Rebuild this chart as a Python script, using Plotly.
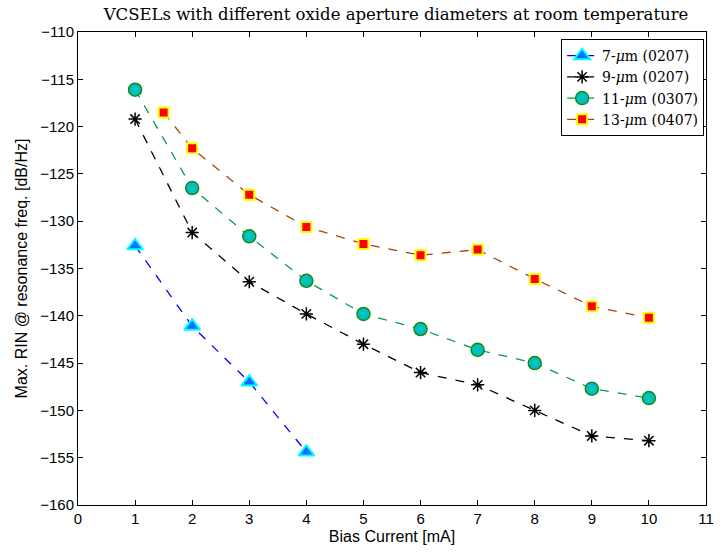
import plotly.graph_objects as go

# Data
x7 = [1, 2, 3, 4]
y7 = [-132.6, -141.1, -147.0, -154.4]

x9 = [1, 2, 3, 4, 5, 6, 7, 8, 9, 10]
y9 = [-119.2, -131.2, -136.4, -139.8, -143.0, -146.0, -147.3, -150.0, -152.7, -153.2]

x11 = [1, 2, 3, 4, 5, 6, 7, 8, 9, 10]
y11 = [-116.1, -126.5, -131.6, -136.3, -139.8, -141.4, -143.6, -145.0, -147.7, -148.7]

x13 = [1.5, 2, 3, 4, 5, 6, 7, 8, 9, 10]
y13 = [-118.5, -122.3, -127.2, -130.6, -132.4, -133.6, -133.0, -136.1, -139.0, -140.2]

names = ["7-<i>μ</i>m (0207)", "9-<i>μ</i>m (0207)", "11-<i>μ</i>m (0307)", "13-<i>μ</i>m (0407)"]

title_text = "VCSELs with different oxide aperture diameters at room temperature"
xlabel = "Bias Current [mA]"
ylabel = "Max. RIN @ resonance freq. [dB/Hz]"

xticks = list(range(0, 12))
yticks = list(range(-160, -105, 5))

SANS = "Liberation Sans, Arial, Helvetica, sans-serif"
SERIF = "DejaVu Serif, serif"

fig = go.Figure()
fig.add_trace(go.Scatter(
    x=x7, y=y7, name=names[0], mode="lines+markers",
    line=dict(color="#0000ff", width=1.3, dash="dash"),
    marker=dict(symbol="triangle-up", size=14, color="#0a6cff",
                line=dict(color="#00ffff", width=2))))
fig.add_trace(go.Scatter(
    x=x9, y=y9, name=names[1], mode="lines+markers",
    line=dict(color="#000000", width=1.3, dash="dash"),
    marker=dict(symbol="asterisk-open", size=11, color="#000000",
                line=dict(color="#000000", width=1.5))))
fig.add_trace(go.Scatter(
    x=x11, y=y11, name=names[2], mode="lines+markers",
    line=dict(color="#00a04a", width=1.3, dash="dash"),
    marker=dict(symbol="circle", size=13, color="#00bfbf",
                line=dict(color="#138a13", width=1.5))))
fig.add_trace(go.Scatter(
    x=x13, y=y13, name=names[3], mode="lines+markers",
    line=dict(color="#a8420f", width=1.3, dash="dash"),
    marker=dict(symbol="square", size=10, color="#ff0000",
                line=dict(color="#ffff00", width=2))))

axis_common = dict(
    showgrid=False, zeroline=False, showline=True, linecolor="black", linewidth=1,
    mirror="ticks", ticks="inside", ticklen=5, tickcolor="black", tickwidth=1,
    tickfont=dict(family=SANS, size=15, color="black"),
)

fig.update_layout(
    width=726, height=554,
    margin=dict(l=78, r=12, t=32, b=47),
    paper_bgcolor="white", plot_bgcolor="white",
    title=dict(text=title_text, x=(78 + 714) / 2 / 726, xanchor="center",
               y=1 - 14 / 554, yanchor="middle",
               font=dict(family=SERIF, size=16.5, color="black")),
    xaxis=dict(range=[0, 11], tickvals=xticks, **axis_common,
               title=dict(text=xlabel, standoff=4,
                          font=dict(family=SANS, size=16, color="black"))),
    yaxis=dict(range=[-160, -110], tickvals=yticks, **axis_common,
               title=dict(text=ylabel, standoff=8,
                          font=dict(family=SANS, size=16, color="black"))),
    legend=dict(x=0.997, y=0.985, xanchor="right", yanchor="top",
                bordercolor="black", borderwidth=1, bgcolor="white",
                itemwidth=30, tracegroupgap=0,
                font=dict(family=SERIF, size=14, color="black")),
    showlegend=True,
)
fig.update_yaxes(tickformat="d")

fig.write_html("out.html")
